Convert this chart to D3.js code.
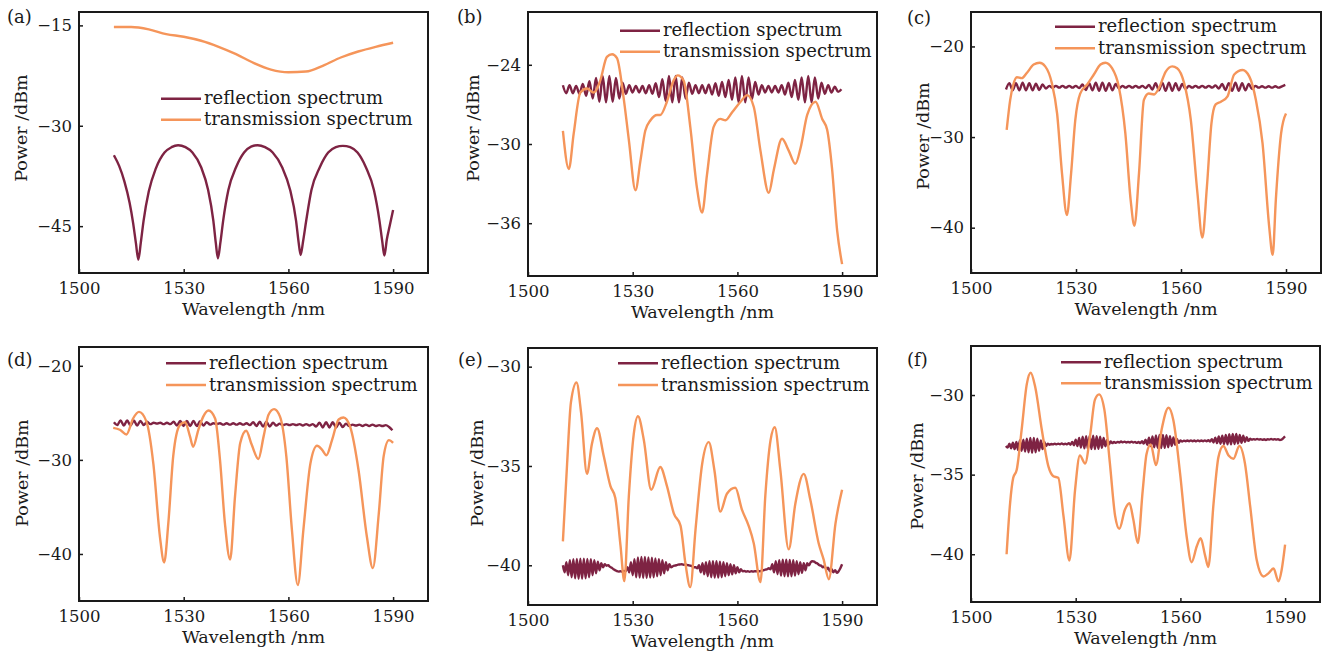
<!DOCTYPE html>
<html>
<head>
<meta charset="utf-8">
<script src="https://cdn.jsdelivr.net/npm/d3@7"></script>
<style>
  body { margin: 0; background: #fff; }
</style>
</head>
<body>
<svg id="chart" width="1323" height="652"></svg>
<script>
// ---------- data ----------
const xTicks = [1500, 1530, 1560, 1590];
const legendNames = ['reflection spectrum', 'transmission spectrum'];
const panelNames = ['(a)', '(b)', '(c)', '(d)', '(e)', '(f)'];

// (a)
const yTicksA = [-15, -30, -45];
const tWlA = [1510, 1515, 1520, 1525, 1530, 1535, 1540, 1545, 1550, 1555, 1560, 1565, 1570, 1575, 1580, 1585, 1590];
const tPwA = [-15.25, -15.25, -15.6, -16.3, -16.7, -17.3, -18.2, -19.3, -20.6, -21.6, -22.0, -21.9, -21.0, -19.8, -18.9, -18.2, -17.6];
const rWlA = [1510, 1511.5, 1513, 1514.5, 1515.5, 1516.3, 1517, 1517.7, 1518.5, 1520, 1522, 1524.5, 1526.5, 1528.4, 1530.5, 1532.5, 1535, 1537, 1538.5, 1539.2, 1539.8, 1540.5, 1541.3, 1542.8, 1545, 1547.3, 1549.3, 1551.2, 1553.3, 1555.5, 1558.2, 1560.5, 1562.2, 1562.9, 1563.5, 1564.2, 1565.1, 1566.6, 1569, 1571.4, 1573.6, 1575.6, 1577.7, 1579.8, 1582.2, 1584.5, 1586.1, 1586.9, 1587.5, 1588.2, 1589, 1590];
const rPwA = [-34.4, -36.0, -38.3, -41.5, -44.5, -47.5, -50.0, -47.5, -44.2, -39.8, -36.4, -34.0, -33.2, -32.9, -33.2, -34.0, -36.2, -39.6, -44.2, -47.5, -49.8, -47.5, -44.2, -39.6, -36.2, -34.0, -33.1, -32.9, -33.2, -34.0, -36.2, -39.6, -44.2, -47.3, -49.3, -47.3, -44.2, -39.6, -36.2, -34.0, -33.2, -33.0, -33.2, -34.0, -36.2, -39.6, -44.2, -47.3, -49.4, -47.0, -45.0, -42.6];

// (b)
const yTicksB = [-24, -30, -36];
const tWlB = [1510, 1511.7, 1513.1, 1515, 1516.9, 1518.8, 1520.7, 1522.6, 1524.1, 1525.5, 1527.4, 1528.9, 1530.8, 1532.2, 1533.6, 1535.1, 1537, 1537.9, 1539.8, 1541.7, 1542.9, 1544.6, 1546.5, 1548.4, 1549.9, 1551.3, 1553.2, 1555.1, 1556.6, 1558.5, 1560.9, 1562.8, 1564.7, 1566.6, 1569, 1570.4, 1572.8, 1574.7, 1576.6, 1578.1, 1580, 1582.4, 1584.3, 1585.7, 1587.1, 1588.6, 1590];
const tPwB = [-29.0, -31.9, -29.2, -26.1, -25.8, -26.1, -25.2, -23.4, -23.2, -23.5, -26.5, -29.7, -33.5, -31.3, -29.0, -28.2, -27.8, -27.8, -26.8, -25.2, -24.8, -25.2, -28.7, -33.3, -35.2, -32.3, -28.7, -28.1, -28.2, -27.6, -26.8, -26.3, -27.2, -30.5, -33.7, -32.0, -29.6, -30.5, -31.5, -30.3, -27.8, -26.8, -28.1, -28.9, -31.8, -36.6, -39.1];
const rStartB = 1510, rStepB = 0.95;
const rPwB = [-25.55, -26.15, -25.55, -26.15, -25.6, -26.2, -25.45, -26.35, -25.25, -26.55,
  -25.0, -26.8, -24.85, -26.85, -24.85, -26.8, -25.0, -26.55, -25.35, -26.2,
  -25.55, -26.1, -25.6, -26.1, -25.6, -26.15, -25.55, -26.2, -25.4, -26.45,
  -25.1, -26.75, -24.85, -26.85, -24.85, -26.85, -24.95, -26.55, -25.35, -26.2,
  -25.55, -26.15, -25.55, -26.15, -25.5, -26.25, -25.4, -26.35, -25.3, -26.45,
  -25.15, -26.65, -24.95, -26.85, -24.85, -26.85, -24.95, -26.6, -25.3, -26.25,
  -25.55, -26.1, -25.6, -26.1, -25.6, -26.1, -25.55, -26.25, -25.35, -26.45,
  -25.15, -26.65, -24.95, -26.85, -24.85, -26.85, -24.95, -26.55, -25.35, -26.2,
  -25.55, -26.1, -25.65, -26.05, -25.85];

// (c)
const yTicksC = [-20, -30, -40];
const tWlC = [1510.2, 1511.2, 1512.1, 1513.1, 1514.5, 1516, 1517.9, 1519.6, 1521.2, 1523.1, 1524.6, 1526, 1527.4, 1528.6, 1529.8, 1531.2, 1533.2, 1535.1, 1537, 1538.4, 1540.3, 1542.2, 1544.1, 1545.6, 1546.7, 1548, 1549.4, 1550.8, 1552.3, 1553.7, 1555.6, 1557.5, 1558.9, 1560.9, 1562.8, 1564.7, 1566.1, 1567.4, 1568.7, 1569.9, 1571.4, 1573.3, 1575.2, 1577.6, 1579.5, 1581.4, 1583.3, 1585.2, 1586.2, 1587.1, 1588.6, 1590];
const tPwC = [-29.2, -25.9, -24.2, -23.4, -23.5, -22.9, -22.0, -21.8, -22.2, -24.05, -27.4, -34.0, -38.6, -34.0, -28.1, -25.2, -24.2, -23.1, -22.0, -21.8, -22.4, -24.4, -29.6, -36.9, -39.8, -34.0, -25.9, -25.2, -25.3, -24.6, -22.8, -22.2, -22.4, -24.05, -28.1, -36.2, -41.1, -35.5, -28.5, -26.4, -26.1, -25.5, -23.1, -22.6, -23.3, -25.9, -30.7, -39.9, -43.0, -36.9, -29.6, -27.4];
const rStartC = 1510, rStepC = 0.95;
const rPwC = [-24.75, -24.05, -24.85, -24.05, -24.85, -24.0, -24.85, -24.05, -24.85, -24.1,
  -24.8, -24.2, -24.65, -24.35, -24.55, -24.35, -24.55, -24.35, -24.55, -24.35,
  -24.55, -24.35, -24.6, -24.2, -24.8, -24.05, -24.85, -24.0, -24.9, -24.0,
  -24.9, -24.05, -24.85, -24.15, -24.65, -24.35, -24.55, -24.35, -24.55, -24.35,
  -24.55, -24.35, -24.6, -24.25, -24.75, -24.05, -24.85, -24.0, -24.9, -24.0,
  -24.9, -24.05, -24.85, -24.15, -24.7, -24.35, -24.55, -24.35, -24.55, -24.35,
  -24.55, -24.35, -24.55, -24.3, -24.65, -24.15, -24.8, -24.05, -24.9, -24.0,
  -24.9, -24.05, -24.85, -24.15, -24.7, -24.35, -24.55, -24.4, -24.55, -24.4,
  -24.55, -24.4, -24.55, -24.4, -24.25];

// (d)
const yTicksD = [-20, -30, -40];
const tWlD = [1509.8, 1511.7, 1513.6, 1515.5, 1517.2, 1519.3, 1521.3, 1523.2, 1524.4, 1525.6, 1527, 1528.9, 1530.4, 1531.8, 1532.7, 1534.2, 1535.6, 1537.1, 1539, 1540.4, 1541.8, 1543.3, 1544.7, 1546.2, 1547.9, 1549.5, 1551.4, 1552.9, 1554.3, 1555.9, 1557.6, 1559.4, 1561, 1562.7, 1564.3, 1566.3, 1568.2, 1569.6, 1570.9, 1572.5, 1574.4, 1575.8, 1577.7, 1580.1, 1582.5, 1584.2, 1585.9, 1587.3, 1588.8, 1590];
const tPwD = [-26.6, -26.8, -27.3, -25.6, -24.9, -25.9, -30.4, -38.2, -40.9, -36.7, -29.6, -26.3, -26.0, -27.5, -28.6, -26.8, -25.4, -24.75, -25.6, -30.0, -36.7, -40.6, -33.9, -28.2, -26.9, -28.4, -29.9, -27.5, -25.2, -24.6, -25.4, -29.6, -37.4, -43.3, -37.4, -30.4, -28.5, -28.9, -29.5, -27.9, -25.7, -25.5, -26.5, -31.1, -38.2, -41.5, -35.7, -29.6, -27.9, -28.2];
const rStartD = 1510, rStepD = 0.95;
const rPwD = [-26.0, -26.3, -25.8, -26.35, -25.8, -26.35, -25.8, -26.35, -25.85, -26.3,
  -25.95, -26.2, -26.05, -26.15, -26.05, -26.2, -26.05, -26.2, -25.95, -26.35,
  -25.85, -26.4, -25.85, -26.4, -25.85, -26.4, -25.9, -26.35, -26.0, -26.25,
  -26.1, -26.2, -26.1, -26.25, -26.1, -26.25, -26.1, -26.25, -26.1, -26.25,
  -26.1, -26.3, -26.0, -26.4, -25.95, -26.45, -25.95, -26.45, -26.05, -26.35,
  -26.15, -26.3, -26.2, -26.3, -26.2, -26.3, -26.2, -26.35, -26.2, -26.35,
  -26.2, -26.45, -26.05, -26.55, -26.0, -26.55, -26.0, -26.55, -26.05, -26.5,
  -26.15, -26.4, -26.25, -26.35, -26.25, -26.4, -26.25, -26.4, -26.25, -26.4,
  -26.3, -26.4, -26.3, -26.5, -26.85];

// (e)
const yTicksE = [-30, -35, -40];
const tWlE = [1510, 1511.2, 1512.3, 1513.9, 1515.2, 1516.9, 1518.3, 1519.8, 1521.7, 1523.6, 1525, 1526.5, 1527.6, 1528.9, 1530.3, 1531.5, 1533.2, 1535.3, 1537.9, 1539.8, 1541.8, 1543.7, 1545.1, 1546.5, 1548, 1549.9, 1551.8, 1553.4, 1555.1, 1557, 1559.4, 1561.3, 1563.2, 1564.7, 1566.6, 1568, 1569.5, 1570.7, 1572.3, 1574.7, 1576.6, 1579, 1580.9, 1583.3, 1584.7, 1586.2, 1588.1, 1590];
const tPwE = [-38.8, -34.9, -31.8, -30.8, -32.3, -35.4, -33.9, -33.1, -34.5, -36.0, -36.6, -39.0, -40.8, -36.5, -33.4, -32.5, -33.7, -36.2, -35.05, -36.0, -37.4, -38.0, -39.9, -41.1, -38.2, -34.9, -33.8, -35.2, -37.3, -36.4, -36.1, -37.2, -38.0, -38.9, -40.85, -36.5, -33.7, -33.05, -35.2, -39.2, -36.9, -35.4, -36.7, -38.9, -39.7, -40.7, -37.9, -36.2];
const rStartE = 1510, rStepE = 0.5;
const rPwE = [-40.0, -40.35, -39.85, -40.5, -39.75, -40.6, -39.7, -40.65, -39.68, -40.68,
  -39.67, -40.68, -39.67, -40.65, -39.68, -40.6, -39.7, -40.5, -39.75, -40.4,
  -39.82, -40.25, -39.9, -40.1, -39.95, -40.02, -40.0, -40.08, -40.12, -40.2,
  -40.25, -40.3, -40.32, -40.3, -40.33, -40.28, -40.3, -40.1, -40.35, -39.85,
  -40.5, -39.7, -40.6, -39.6, -40.62, -39.58, -40.64, -39.58, -40.64, -39.6,
  -40.62, -39.62, -40.6, -39.65, -40.55, -39.7, -40.5, -39.75, -40.4, -39.85,
  -40.25, -39.95, -40.1, -40.05, -40.02, -40.0, -39.97, -39.96, -39.95, -39.97,
  -39.96, -39.98, -40.0, -40.02, -40.05, -40.1, -40.1, -40.15, -40.0, -40.35,
  -39.9, -40.45, -39.85, -40.55, -39.8, -40.6, -39.8, -40.62, -39.8, -40.62,
  -39.82, -40.6, -39.85, -40.55, -39.9, -40.5, -39.95, -40.45, -40.0, -40.4,
  -40.1, -40.35, -40.2, -40.3, -40.28, -40.32, -40.3, -40.33, -40.3, -40.32,
  -40.3, -40.3, -40.28, -40.3, -40.27, -40.25, -40.22, -40.2, -40.15, -40.2,
  -39.95, -40.35, -39.8, -40.45, -39.75, -40.52, -39.72, -40.55, -39.72, -40.56,
  -39.73, -40.55, -39.75, -40.52, -39.8, -40.45, -39.85, -40.38, -39.9, -40.25,
  -39.9, -40.0, -39.85, -39.8, -39.82, -39.88, -39.92, -40.0, -40.02, -40.1,
  -40.05, -40.2, -40.12, -40.3, -40.2, -40.35, -40.25, -40.38, -40.3, -40.15,
  -39.95];

// (f)
const yTicksF = [-30, -35, -40];
const tWlF = [1510.2, 1511.2, 1512.1, 1513.1, 1514.5, 1516, 1517.1, 1518.4, 1520.3, 1522.2, 1523.6, 1525, 1526.5, 1528.2, 1529.8, 1531.2, 1532.7, 1534.1, 1535.5, 1536.7, 1538.2, 1539.8, 1541.3, 1542.5, 1544.1, 1545.4, 1546.5, 1547.8, 1549.2, 1550.3, 1551.5, 1553, 1554.6, 1556.6, 1558, 1559.9, 1561.8, 1563.2, 1564.7, 1565.8, 1567.1, 1568, 1569.5, 1570.9, 1572.3, 1573.8, 1575.2, 1576.9, 1578.5, 1580, 1581.9, 1583.8, 1585.2, 1586.7, 1588.1, 1589, 1590];
const tPwF = [-40.0, -36.8, -35.2, -34.7, -32.2, -29.3, -28.6, -29.5, -32.2, -34.5, -35.1, -35.2, -37.6, -40.4, -36.0, -33.8, -34.3, -32.6, -30.3, -29.96, -30.9, -34.3, -37.6, -38.4, -37.2, -36.8, -37.8, -39.3, -36.0, -33.7, -33.1, -34.4, -32.2, -30.8, -31.6, -34.9, -38.9, -40.5, -39.5, -39.0, -40.1, -40.8, -36.8, -33.9, -33.2, -33.8, -34.0, -33.2, -34.3, -37.0, -40.4, -41.4, -41.2, -40.9, -41.7, -41.0, -39.4];
const rStartF = 1510, rStepF = 0.5;
const rPwF = [-33.2, -33.3, -33.05, -33.35, -33.0, -33.4, -32.95, -33.45, -32.85, -33.5,
  -32.8, -33.55, -32.75, -33.6, -32.7, -33.62, -32.7, -33.6, -32.75, -33.5,
  -32.85, -33.4, -32.95, -33.2, -33.05, -33.12, -33.08, -33.1, -33.05, -33.1,
  -33.06, -33.1, -33.04, -33.1, -33.05, -33.1, -33.02, -33.12, -32.95, -33.15,
  -32.8, -33.2, -32.7, -33.3, -32.62, -33.35, -32.58, -33.4, -32.56, -33.4,
  -32.56, -33.4, -32.58, -33.38, -32.62, -33.32, -32.7, -33.22, -32.82, -33.1,
  -32.92, -33.02, -32.95, -33.0, -32.94, -32.98, -32.92, -32.97, -32.93, -32.98,
  -32.94, -32.98, -32.93, -32.98, -32.95, -33.0, -32.95, -33.02, -32.9, -33.05,
  -32.8, -33.12, -32.68, -33.2, -32.6, -33.28, -32.54, -33.32, -32.5, -33.33,
  -32.5, -33.32, -32.52, -33.28, -32.58, -33.2, -32.66, -33.12, -32.76, -33.0,
  -32.85, -32.92, -32.87, -32.9, -32.86, -32.9, -32.85, -32.9, -32.86, -32.91,
  -32.85, -32.9, -32.86, -32.9, -32.85, -32.9, -32.84, -32.92, -32.78, -32.98,
  -32.68, -33.02, -32.6, -33.06, -32.55, -33.08, -32.5, -33.1, -32.46, -33.1,
  -32.44, -33.08, -32.45, -33.05, -32.5, -33.0, -32.56, -32.95, -32.65, -32.88,
  -32.75, -32.8, -32.77, -32.8, -32.76, -32.8, -32.77, -32.81, -32.78, -32.82,
  -32.78, -32.8, -32.76, -32.8, -32.77, -32.8, -32.78, -32.82, -32.8, -32.7,
  -32.6];

// ---------- layout ----------
const reflColor = '#7e2343';
const transColor = '#f5955a';
const serif = '"DejaVu Serif", "Liberation Serif", "Times New Roman", serif';

function grid(start, step, vals) {
    return vals.map((v, i) => start + i * step);
}

const panels = [
    { name: panelNames[0], box: [79, 12, 428, 273], yDom: [-52, -13], yTicks: yTicksA,
      tw: tWlA, tp: tPwA, rw: rWlA, rp: rPwA,
      leg: [161, 98.7, 21], lab: [7, 23], ytl: [21, 128] },
    { name: panelNames[1], box: [528, 12, 877, 276], yDom: [-40, -20], yTicks: yTicksB,
      tw: tWlB, tp: tPwB, rw: grid(rStartB, rStepB, rPwB), rp: rPwB,
      leg: [620, 30.7, 21], lab: [457, 23], ytl: [473, 128] },
    { name: panelNames[2], box: [971, 12, 1321, 273], yDom: [-45, -16.2], yTicks: yTicksC,
      tw: tWlC, tp: tPwC, rw: grid(rStartC, rStepC, rPwC), rp: rPwC,
      leg: [1055, 26.7, 21.6], lab: [907, 24], ytl: [923, 136] },
    { name: panelNames[3], box: [79, 347, 428, 601], yDom: [-45, -18], yTicks: yTicksD,
      tw: tWlD, tp: tPwD, rw: grid(rStartD, rStepD, rPwD), rp: rPwD,
      leg: [166, 363.3, 21.7], lab: [7, 366], ytl: [22, 473] },
    { name: panelNames[4], box: [528, 348, 877, 605], yDom: [-42, -29.06], yTicks: yTicksE,
      tw: tWlE, tp: tPwE, rw: grid(rStartE, rStepE, rPwE), rp: rPwE,
      leg: [618, 363.3, 21.7], lab: [458, 366], ytl: [477, 473] },
    { name: panelNames[5], box: [971, 346, 1320, 602], yDom: [-43, -26.92], yTicks: yTicksF,
      tw: tWlF, tp: tPwF, rw: grid(rStartF, rStepF, rPwF), rp: rPwF,
      leg: [1061, 362.3, 21], lab: [907, 366], ytl: [917, 476] }
];

const svg = d3.select('#chart');

function txt(sel, size) {
    return sel.attr('font-family', serif).style('font-family', serif)
        .style('font-size', size + 'px').attr('fill', '#1a1a1a');
}

panels.forEach(p => {
    const [x0, y0, x1, y1] = p.box;
    const x = d3.scaleLinear().domain([1500, 1600]).range([x0, x1]);
    const y = d3.scaleLinear().domain(p.yDom).range([y1, y0]);
    const g = svg.append('g');

    // axes
    const xa = g.append('g')
        .attr('transform', `translate(0 ${y1})`)
        .call(d3.axisBottom(x).tickValues(xTicks).tickFormat(d3.format('d'))
            .tickSize(-4).tickPadding(9).tickSizeOuter(0));
    xa.attr('font-family', serif);
    xa.select('.domain').remove();
    txt(xa.selectAll('text'), 16.5);
    xa.selectAll('line').attr('stroke', '#1a1a1a').attr('stroke-width', 1.5);

    const ya = g.append('g')
        .attr('transform', `translate(${x0} 0)`)
        .call(d3.axisLeft(y).tickValues(p.yTicks).tickFormat(d3.format('d'))
            .tickSize(-4).tickPadding(7).tickSizeOuter(0));
    ya.attr('font-family', serif);
    ya.select('.domain').remove();
    txt(ya.selectAll('text'), 16.5);
    ya.selectAll('line').attr('stroke', '#1a1a1a').attr('stroke-width', 1.5);

    const line = d3.line()
        .x(d => x(d[0]))
        .y(d => y(d[1]))
        .curve(d3.curveMonotoneX);

    g.append('path')
        .datum(p.rw.map((w, i) => [w, p.rp[i]]))
        .attr('fill', 'none')
        .attr('stroke', reflColor)
        .attr('stroke-width', 2.4)
        .attr('d', line);

    g.append('path')
        .datum(p.tw.map((w, i) => [w, p.tp[i]]))
        .attr('fill', 'none')
        .attr('stroke', transColor)
        .attr('stroke-width', 2.4)
        .attr('d', line);

    // frame
    g.append('rect')
        .attr('x', x0).attr('y', y0)
        .attr('width', x1 - x0).attr('height', y1 - y0)
        .attr('fill', 'none')
        .attr('stroke', '#1a1a1a')
        .attr('stroke-width', 2);

    // legend
    const [lx, ly, ldy] = p.leg;
    [reflColor, transColor].forEach((c, i) => {
        g.append('line')
            .attr('x1', lx).attr('x2', lx + 40)
            .attr('y1', ly + i * ldy).attr('y2', ly + i * ldy)
            .attr('stroke', c).attr('stroke-width', 2.4);
        txt(g.append('text'), 18)
            .attr('x', lx + 43).attr('y', ly + i * ldy)
            .attr('dy', '0.32em')
            .text(legendNames[i]);
    });

    // titles
    txt(g.append('text'), 17.5)
        .attr('x', (x0 + x1) / 2).attr('y', y1 + 42)
        .attr('text-anchor', 'middle')
        .text('Wavelength /nm');

    txt(g.append('text'), 17.5)
        .attr('transform', `translate(${p.ytl[0]} ${p.ytl[1]}) rotate(-90)`)
        .attr('text-anchor', 'middle')
        .attr('dy', '0.35em')
        .text('Power /dBm');

    txt(g.append('text'), 18)
        .attr('x', p.lab[0]).attr('y', p.lab[1])
        .text(p.name);
});
</script>
</body>
</html>
